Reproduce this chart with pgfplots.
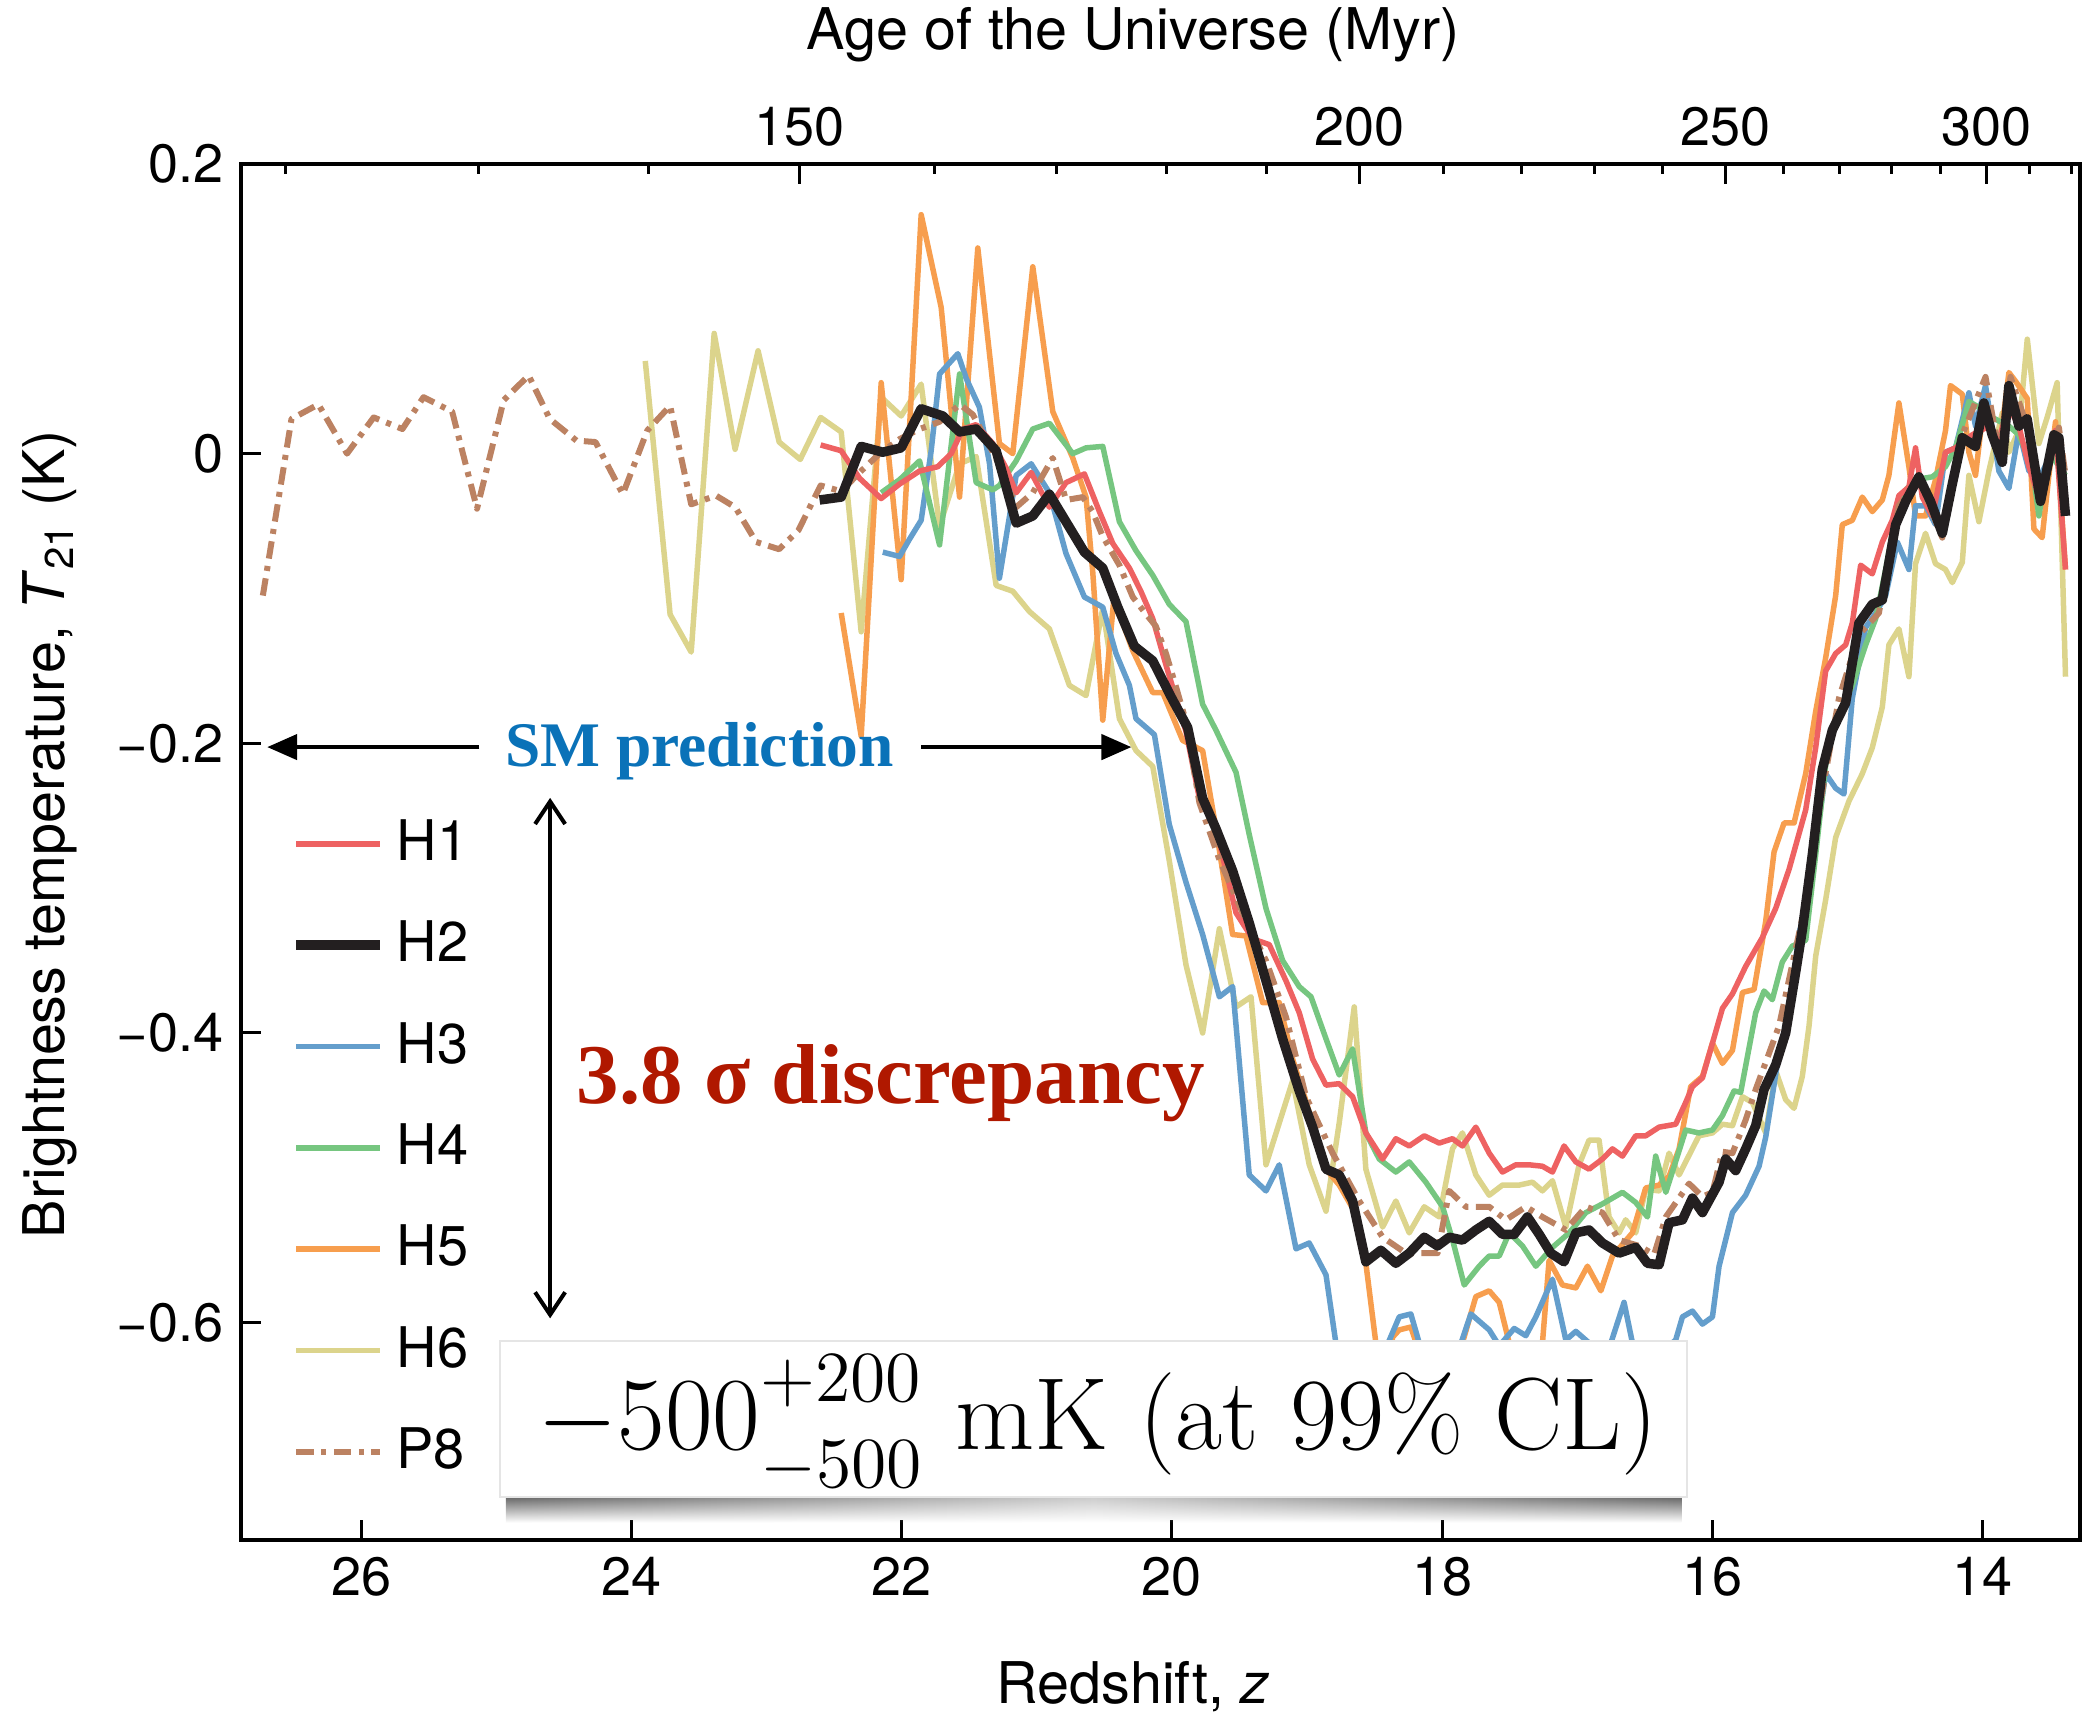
\documentclass[border=0pt]{standalone}
\usepackage{fontspec}
\setsansfont{TeX Gyre Heros}
\renewcommand{\familydefault}{\sfdefault}
\newfontfamily\tnr{Liberation Serif}
\usepackage{pgfplots}
\pgfplotsset{compat=1.18}
\usetikzlibrary{arrows.meta,fadings}
\DeclareMathSizes{20.5}{20.5}{14.35}{10.25}

\definecolor{cH1}{RGB}{238,98,98}
\definecolor{cH2}{RGB}{35,31,32}
\definecolor{cH3}{RGB}{100,158,204}
\definecolor{cH4}{RGB}{118,198,128}
\definecolor{cH5}{RGB}{247,158,78}
\definecolor{cH6}{RGB}{220,212,140}
\definecolor{cP8}{RGB}{188,130,98}
\definecolor{smblue}{RGB}{10,114,184}
\definecolor{discred}{RGB}{176,24,0}

\begin{document}
\begin{tikzpicture}
\begin{axis}[
    name=main,
    scale only axis, width=367.8pt, height=275.2pt,
    x dir=reverse, xmin=13.28, xmax=26.89, ymin=-0.75, ymax=0.2,
    xtick={14,16,18,20,22,24,26}, xticklabels={14,16,18,20,22,24,26},
    ytick={-0.6,-0.4,-0.2,0,0.2}, yticklabels={−0.6,−0.4,−0.2,0,0.2},
    xtick pos=bottom, ytick pos=left,
    tick align=inside, major tick length=4pt,
    tick style={black, line width=0.6pt},
    axis line style={black, line width=0.75pt},
    ticklabel style={font=\fontsize{10.8}{12}\selectfont},
    label style={font=\fontsize{11.5}{13}\selectfont},
    xlabel={Redshift, \textit{z}},
    xlabel style={at={(axis description cs:0.485,0)}, anchor=base, yshift=-32.8pt},
    ylabel={Brightness temperature, \textit{T}\textsubscript{21} (K)},
    ylabel style={at={(axis description cs:-0.0962,0.513)}, anchor=base},
    legend style={at={(axis description cs:0.027,0.285)}, anchor=west,
        draw=none, fill=none, inner sep=0pt,
        font=\fontsize{11.2}{12.5}\selectfont,
        nodes={inner sep=1pt}, row sep=8.6pt,
        /tikz/every odd column/.append style={column sep=1.3pt}},
    legend cell align=left,
    legend image code/.code={\draw[#1] (0pt,0pt) -- (16.8pt,0pt);},
]
% drawing order: H6, H5, H3, H4, H1, P8, H2 on top
\addplot[forget plot, cH6, line width=1.1pt, line join=round] coordinates {
(23.898,0.064)(23.714,-0.111)(23.558,-0.137)(23.388,0.083)(23.233,0.003)(23.063,0.071)(22.907,0.008)(22.751,-0.004)(22.600,0.025)(22.448,0.015)(22.300,-0.123)(22.152,0.039)(22.004,0.026)(21.856,0.048)(21.720,-0.050)(21.572,-0.007)(21.449,-0.002)(21.301,-0.091)(21.178,-0.095)(21.055,-0.109)(20.907,-0.121)(20.759,-0.160)(20.636,-0.167)(20.512,-0.107)(20.389,-0.183)(20.266,-0.205)(20.142,-0.216)(20.020,-0.281)(19.896,-0.353)(19.773,-0.400)(19.649,-0.328)(19.526,-0.382)(19.415,-0.375)(19.304,-0.491)(19.107,-0.433)(18.984,-0.491)(18.860,-0.523)(18.762,-0.462)(18.651,-0.382)(18.565,-0.494)(18.441,-0.534)(18.343,-0.516)(18.244,-0.538)(18.133,-0.520)(18.022,-0.527)(17.924,-0.480)(17.850,-0.469)(17.751,-0.498)(17.652,-0.512)(17.554,-0.505)(17.430,-0.505)(17.332,-0.503)(17.258,-0.509)(17.184,-0.502)(17.085,-0.534)(16.987,-0.491)(16.913,-0.474)(16.839,-0.474)(16.765,-0.527)(16.691,-0.538)(16.642,-0.529)(16.568,-0.538)(16.494,-0.508)(16.395,-0.509)(16.321,-0.483)(16.247,-0.498)(16.100,-0.471)(16.000,-0.469)(15.926,-0.463)(15.852,-0.464)(15.778,-0.444)(15.704,-0.448)(15.606,-0.469)(15.532,-0.426)(15.458,-0.446)(15.396,-0.452)(15.335,-0.430)(15.285,-0.395)(15.236,-0.347)(15.162,-0.308)(15.088,-0.265)(14.990,-0.240)(14.891,-0.221)(14.817,-0.203)(14.743,-0.175)(14.694,-0.132)(14.620,-0.121)(14.546,-0.154)(14.497,-0.076)(14.423,-0.055)(14.349,-0.076)(14.275,-0.080)(14.225,-0.089)(14.151,-0.075)(14.102,-0.015)(14.028,-0.047)(13.954,-0.012)(13.855,0.028)(13.806,0.001)(13.732,0.016)(13.670,0.079)(13.584,0.007)(13.523,0.025)(13.449,0.049)(13.387,-0.154)
};
\addplot[forget plot, cH5, line width=1.1pt, line join=round] coordinates {
(22.448,-0.110)(22.300,-0.195)(22.152,0.049)(22.004,-0.087)(21.856,0.165)(21.708,0.101)(21.572,-0.030)(21.437,0.142)(21.277,0.007)(21.178,0.000)(21.030,0.129)(20.882,0.029)(20.734,-0.003)(20.636,-0.030)(20.586,-0.082)(20.512,-0.184)(20.430,-0.100)(20.290,-0.136)(20.142,-0.165)(20.068,-0.165)(19.921,-0.198)(19.773,-0.205)(19.674,-0.259)(19.551,-0.332)(19.452,-0.333)(19.329,-0.379)(19.206,-0.379)(19.107,-0.418)(19.008,-0.447)(18.860,-0.494)(18.762,-0.505)(18.663,-0.521)(18.565,-0.559)(18.491,-0.614)(18.420,-0.640)(18.367,-0.610)(18.318,-0.605)(18.232,-0.603)(18.100,-0.640)(17.900,-0.630)(17.751,-0.582)(17.652,-0.578)(17.578,-0.586)(17.504,-0.614)(17.380,-0.640)(17.258,-0.614)(17.209,-0.557)(17.110,-0.574)(17.011,-0.576)(16.925,-0.561)(16.826,-0.578)(16.740,-0.554)(16.592,-0.538)(16.494,-0.507)(16.395,-0.505)(16.321,-0.499)(16.247,-0.480)(16.161,-0.437)(16.074,-0.430)(16.000,-0.407)(15.926,-0.421)(15.852,-0.412)(15.778,-0.372)(15.692,-0.370)(15.606,-0.323)(15.544,-0.275)(15.470,-0.255)(15.396,-0.255)(15.310,-0.221)(15.236,-0.178)(15.162,-0.141)(15.088,-0.098)(15.039,-0.049)(14.965,-0.046)(14.891,-0.030)(14.817,-0.040)(14.743,-0.032)(14.694,-0.015)(14.620,0.035)(14.546,-0.009)(14.497,-0.043)(14.423,-0.043)(14.349,-0.018)(14.275,0.016)(14.238,0.047)(14.151,0.041)(14.102,0.001)(14.053,-0.015)(14.003,0.025)(13.954,0.022)(13.880,0.001)(13.806,0.056)(13.757,0.050)(13.670,0.038)(13.621,-0.052)(13.560,-0.058)(13.510,-0.015)(13.461,0.022)(13.387,-0.080)
};
\addplot[forget plot, cH3, line width=1.1pt, line join=round] coordinates {
(22.140,-0.068)(22.016,-0.071)(21.942,-0.059)(21.856,-0.046)(21.782,0.002)(21.720,0.055)(21.585,0.069)(21.523,0.052)(21.425,0.032)(21.350,-0.007)(21.277,-0.086)(21.153,-0.015)(21.042,-0.007)(20.907,-0.027)(20.784,-0.069)(20.648,-0.099)(20.512,-0.106)(20.414,-0.138)(20.315,-0.160)(20.266,-0.183)(20.130,-0.194)(20.020,-0.256)(19.896,-0.296)(19.773,-0.332)(19.649,-0.375)(19.551,-0.368)(19.428,-0.498)(19.304,-0.509)(19.206,-0.491)(19.082,-0.549)(18.984,-0.545)(18.860,-0.567)(18.787,-0.614)(18.600,-0.645)(18.450,-0.625)(18.318,-0.596)(18.232,-0.594)(18.170,-0.614)(18.050,-0.635)(17.900,-0.625)(17.788,-0.594)(17.652,-0.605)(17.578,-0.616)(17.467,-0.604)(17.381,-0.609)(17.307,-0.596)(17.184,-0.570)(17.085,-0.612)(17.011,-0.606)(16.913,-0.614)(16.790,-0.625)(16.654,-0.586)(16.592,-0.614)(16.444,-0.625)(16.272,-0.612)(16.222,-0.596)(16.148,-0.592)(16.074,-0.601)(16.000,-0.596)(15.951,-0.561)(15.852,-0.524)(15.754,-0.512)(15.655,-0.492)(15.606,-0.472)(15.507,-0.414)(15.433,-0.388)(15.359,-0.331)(15.335,-0.323)(15.236,-0.268)(15.162,-0.221)(15.088,-0.231)(15.027,-0.235)(14.965,-0.169)(14.866,-0.120)(14.792,-0.110)(14.718,-0.098)(14.632,-0.061)(14.546,-0.080)(14.497,-0.036)(14.423,-0.036)(14.349,-0.049)(14.275,0.001)(14.201,0.004)(14.102,0.042)(14.053,0.019)(13.979,0.047)(13.880,-0.012)(13.806,-0.024)(13.732,0.016)(13.658,-0.012)(13.572,-0.015)(13.486,0.001)(13.387,-0.012)
};
\addplot[forget plot, cH4, line width=1.1pt, line join=round] coordinates {
(22.152,-0.027)(22.016,-0.018)(21.868,-0.005)(21.720,-0.063)(21.572,0.055)(21.449,-0.020)(21.326,-0.025)(21.277,-0.022)(21.153,-0.005)(21.030,0.017)(20.907,0.021)(20.734,0.000)(20.636,0.004)(20.512,0.005)(20.389,-0.047)(20.266,-0.067)(20.142,-0.084)(20.020,-0.104)(19.896,-0.116)(19.773,-0.173)(19.674,-0.191)(19.526,-0.220)(19.428,-0.263)(19.304,-0.314)(19.181,-0.350)(19.058,-0.368)(18.971,-0.375)(18.860,-0.404)(18.762,-0.429)(18.663,-0.411)(18.565,-0.469)(18.466,-0.487)(18.343,-0.496)(18.244,-0.489)(18.121,-0.503)(17.997,-0.520)(17.923,-0.543)(17.837,-0.574)(17.726,-0.561)(17.652,-0.554)(17.578,-0.554)(17.504,-0.538)(17.406,-0.547)(17.307,-0.561)(17.184,-0.548)(17.060,-0.538)(16.937,-0.524)(16.814,-0.518)(16.666,-0.510)(16.568,-0.517)(16.481,-0.527)(16.420,-0.485)(16.345,-0.510)(16.198,-0.467)(16.100,-0.469)(16.000,-0.467)(15.926,-0.457)(15.840,-0.440)(15.791,-0.441)(15.680,-0.386)(15.618,-0.371)(15.557,-0.377)(15.483,-0.351)(15.409,-0.340)(15.310,-0.336)(15.236,-0.277)(15.162,-0.215)(15.088,-0.184)(14.965,-0.160)(14.866,-0.132)(14.792,-0.114)(14.718,-0.080)(14.620,-0.030)(14.497,-0.018)(14.373,-0.016)(14.275,-0.009)(14.201,0.004)(14.102,0.036)(14.028,0.032)(13.930,0.025)(13.806,0.019)(13.732,0.013)(13.634,-0.009)(13.584,-0.043)(13.510,0.001)(13.387,-0.015)
};
\addplot[forget plot, cH1, line width=1.1pt, line join=round] coordinates {
(22.600,0.006)(22.448,0.002)(22.312,-0.017)(22.152,-0.031)(22.016,-0.021)(21.868,-0.012)(21.733,-0.009)(21.634,0.000)(21.548,0.017)(21.449,0.020)(21.326,0.007)(21.227,-0.010)(21.153,-0.027)(21.042,-0.013)(20.907,-0.037)(20.784,-0.020)(20.648,-0.014)(20.537,-0.040)(20.438,-0.062)(20.315,-0.079)(20.230,-0.095)(20.142,-0.114)(20.044,-0.146)(19.896,-0.192)(19.797,-0.238)(19.674,-0.259)(19.526,-0.317)(19.403,-0.335)(19.280,-0.339)(19.156,-0.364)(19.058,-0.386)(18.959,-0.418)(18.860,-0.436)(18.762,-0.435)(18.663,-0.444)(18.565,-0.469)(18.441,-0.487)(18.343,-0.473)(18.244,-0.478)(18.133,-0.471)(18.022,-0.476)(17.924,-0.473)(17.850,-0.478)(17.751,-0.465)(17.652,-0.483)(17.554,-0.496)(17.455,-0.491)(17.357,-0.491)(17.258,-0.492)(17.184,-0.496)(17.098,-0.478)(17.011,-0.489)(16.913,-0.494)(16.814,-0.487)(16.740,-0.480)(16.666,-0.485)(16.568,-0.471)(16.494,-0.471)(16.395,-0.465)(16.272,-0.463)(16.198,-0.448)(16.148,-0.437)(16.074,-0.431)(16.000,-0.407)(15.926,-0.383)(15.852,-0.373)(15.754,-0.354)(15.630,-0.334)(15.532,-0.314)(15.433,-0.287)(15.310,-0.246)(15.236,-0.203)(15.162,-0.150)(15.088,-0.138)(15.014,-0.132)(14.965,-0.117)(14.903,-0.077)(14.817,-0.083)(14.743,-0.061)(14.669,-0.046)(14.620,-0.029)(14.546,-0.023)(14.497,0.004)(14.447,-0.030)(14.373,-0.043)(14.275,0.001)(14.201,0.004)(14.077,0.013)(13.954,0.019)(13.880,0.010)(13.806,0.032)(13.732,0.019)(13.658,-0.009)(13.584,-0.030)(13.461,0.016)(13.387,-0.080)
};
\addplot[forget plot, cP8, line width=1.2pt, line join=round, dash pattern=on 3.5pt off 1.5pt on 1pt off 1.5pt] coordinates {
(26.728,-0.098)(26.516,0.024)(26.317,0.034)(26.105,0.000)(25.908,0.025)(25.695,0.017)(25.539,0.039)(25.327,0.029)(25.143,-0.038)(24.945,0.037)(24.761,0.054)(24.605,0.024)(24.407,0.009)(24.266,0.008)(24.064,-0.028)(23.883,0.016)(23.714,0.033)(23.558,-0.035)(23.374,-0.029)(23.232,-0.037)(23.077,-0.061)(22.907,-0.066)(22.765,-0.053)(22.600,-0.022)(22.447,-0.026)(22.312,-0.013)(22.164,0.000)(22.016,0.010)(21.868,0.017)(21.720,0.022)(21.570,0.034)(21.474,0.027)(21.375,0.010)(21.277,-0.008)(21.153,-0.037)(21.030,-0.027)(20.882,-0.003)(20.783,-0.032)(20.660,-0.030)(20.587,-0.040)(20.513,-0.057)(20.389,-0.077)(20.290,-0.099)(20.190,-0.111)(20.120,-0.119)(20.044,-0.138)(19.970,-0.161)(19.896,-0.185)(19.797,-0.241)(19.650,-0.280)(19.477,-0.317)(19.304,-0.350)(19.156,-0.389)(19.008,-0.444)(18.811,-0.483)(18.614,-0.516)(18.441,-0.541)(18.269,-0.552)(18.034,-0.552)(17.948,-0.509)(17.825,-0.520)(17.652,-0.520)(17.529,-0.529)(17.381,-0.520)(17.258,-0.527)(17.085,-0.536)(16.937,-0.520)(16.814,-0.524)(16.691,-0.543)(16.543,-0.547)(16.432,-0.553)(16.345,-0.527)(16.173,-0.504)(16.074,-0.513)(16.000,-0.510)(15.926,-0.482)(15.852,-0.483)(15.754,-0.460)(15.680,-0.439)(15.581,-0.414)(15.507,-0.395)(15.433,-0.363)(15.310,-0.310)(15.200,-0.240)(15.064,-0.169)(14.916,-0.125)(14.768,-0.110)(14.620,-0.036)(14.472,-0.018)(14.299,-0.058)(14.151,0.013)(13.979,0.053)(13.880,0.001)(13.794,0.053)(13.683,0.022)(13.560,-0.027)(13.436,0.018)(13.387,-0.015)
};
\addplot[forget plot, cH2, line width=1.9pt, line join=round] coordinates {
(22.608,-0.032)(22.448,-0.030)(22.300,0.005)(22.140,0.001)(22.004,0.004)(21.856,0.031)(21.696,0.026)(21.572,0.015)(21.449,0.017)(21.301,0.002)(21.153,-0.048)(21.030,-0.043)(20.907,-0.028)(20.784,-0.047)(20.648,-0.068)(20.512,-0.079)(20.401,-0.106)(20.278,-0.133)(20.142,-0.143)(19.995,-0.170)(19.884,-0.189)(19.773,-0.238)(19.674,-0.259)(19.551,-0.288)(19.428,-0.324)(19.304,-0.364)(19.181,-0.404)(19.058,-0.440)(18.959,-0.465)(18.860,-0.494)(18.762,-0.498)(18.663,-0.516)(18.565,-0.558)(18.454,-0.550)(18.343,-0.559)(18.244,-0.552)(18.133,-0.541)(18.035,-0.547)(17.948,-0.541)(17.850,-0.543)(17.751,-0.536)(17.652,-0.530)(17.554,-0.539)(17.467,-0.539)(17.369,-0.527)(17.282,-0.539)(17.196,-0.552)(17.098,-0.558)(17.011,-0.538)(16.913,-0.536)(16.814,-0.545)(16.691,-0.552)(16.568,-0.548)(16.481,-0.559)(16.395,-0.560)(16.321,-0.531)(16.222,-0.529)(16.148,-0.514)(16.074,-0.524)(15.951,-0.503)(15.902,-0.487)(15.828,-0.495)(15.754,-0.480)(15.680,-0.464)(15.618,-0.439)(15.532,-0.422)(15.458,-0.400)(15.384,-0.358)(15.335,-0.329)(15.261,-0.277)(15.187,-0.218)(15.113,-0.191)(15.014,-0.172)(14.916,-0.117)(14.817,-0.104)(14.743,-0.101)(14.644,-0.049)(14.570,-0.033)(14.472,-0.016)(14.386,-0.033)(14.299,-0.055)(14.225,-0.021)(14.151,0.011)(14.053,0.005)(13.991,0.035)(13.930,0.013)(13.855,-0.006)(13.806,0.047)(13.732,0.019)(13.671,0.024)(13.572,-0.033)(13.473,0.013)(13.436,0.011)(13.387,-0.043)
};
% legend
\addlegendimage{cH1, line width=1.1pt}
\addlegendentry{H1}
\addlegendimage{cH2, line width=1.9pt}
\addlegendentry{H2}
\addlegendimage{cH3, line width=1.1pt}
\addlegendentry{H3}
\addlegendimage{cH4, line width=1.1pt}
\addlegendentry{H4}
\addlegendimage{cH5, line width=1.1pt}
\addlegendentry{H5}
\addlegendimage{cH6, line width=1.1pt}
\addlegendentry{H6}
\addlegendimage{cP8, line width=1.2pt, dash pattern=on 3.5pt off 1.5pt on 1pt off 1.5pt}
\addlegendentry{P8}

% SM prediction arrows and text
\draw[line width=0.9pt, -{Triangle[length=6pt,width=5pt]}] (axis cs:25.125,-0.2026) -- (axis cs:26.696,-0.2026);
\draw[line width=0.9pt, -{Triangle[length=6pt,width=5pt]}] (axis cs:21.856,-0.2026) -- (axis cs:20.30,-0.2026);
\node[anchor=base, text=smblue, font=\tnr\bfseries\fontsize{12.7}{14}\selectfont] at (axis cs:23.496,-0.2158) {SM prediction};
% discrepancy
\draw[line width=0.8pt, {Straight Barb[length=4.5pt,width=6pt]}-{Straight Barb[length=4.5pt,width=6pt]}] (axis cs:24.602,-0.2377) -- (axis cs:24.602,-0.597);
\node[anchor=base, text=discred, font=\tnr\bfseries\fontsize{17}{19}\selectfont] at (axis cs:22.08,-0.4484) {3.8 σ discrepancy};
% result box with soft shadow
\shade[left color=black!60, right color=black!60, middle color=black!20, path fading=south] (axis cs:24.93,-0.7203) rectangle (axis cs:16.23,-0.738);
\draw[draw=black!10, fill=white] (axis cs:24.975,-0.6124) rectangle (axis cs:16.188,-0.7203);
\node[anchor=base, font=\rmfamily\fontsize{20.5}{24}\selectfont] at (axis cs:20.55,-0.6873) {$-500^{\raisebox{2pt}{$\scriptstyle +200$}}_{\raisebox{-2.5pt}{$\scriptstyle -500$}}$ mK (at 99\% CL)};
\end{axis}

% top axis: age of the Universe
\begin{axis}[
    scale only axis, width=367.8pt, height=275.2pt,
    at={(main.south west)}, anchor=south west,
    x dir=reverse, xmin=13.28, xmax=26.89, ymin=-0.75, ymax=0.2,
    axis x line*=top, hide y axis,
    xtick={22.757,18.615,15.906,13.974}, xticklabels={150,200,250,300},
    minor xtick={26.563,25.133,23.875,21.757,20.856,20.040,19.297,17.988,17.410,16.872,16.373,15.471,15.063,14.677,14.315,13.650,13.344},
    tick align=inside, major tick length=4pt, minor tick length=2pt,
    tick style={black, line width=0.6pt},
    axis line style={black, line width=0.75pt},
    ticklabel style={font=\fontsize{10.8}{12}\selectfont},
    xlabel={Age of the Universe (Myr)},
    xlabel style={font=\fontsize{11.5}{13}\selectfont, at={(axis description cs:0.485,1)}, anchor=base, yshift=22.8pt},
]
\addplot[draw=none, forget plot] coordinates {(20,0)};
\end{axis}

\pgfresetboundingbox
\path[use as bounding box] ([xshift=-48.2pt,yshift=-36.2pt]main.south west) rectangle ([xshift=2.2pt,yshift=32.8pt]main.north east);
\end{tikzpicture}
\end{document}
